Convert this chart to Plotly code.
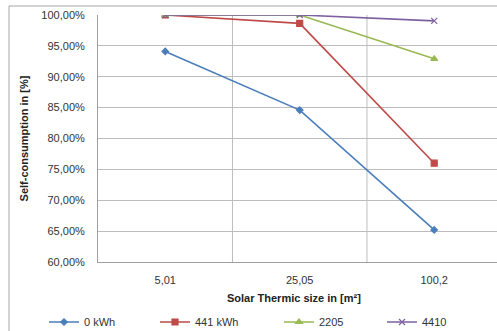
import plotly.graph_objects as go

categories = ["5,01", "25,05", "100,2"]
series_names = ["0 kWh", "441 kWh", "2205", "4410"]
s0 = [94.1, 84.6, 65.2]
s441 = [100.0, 98.65, 76.0]
s2205 = [100.0, 100.0, 92.9]
s4410 = [100.0, 100.0, 99.05]
y_ticks = [60, 65, 70, 75, 80, 85, 90, 95, 100]
y_tick_labels = ["60,00%", "65,00%", "70,00%", "75,00%", "80,00%", "85,00%", "90,00%", "95,00%", "100,00%"]

colors = ["#4a7ebb", "#be4b48", "#98b954", "#7d60a0"]
symbols = ["diamond", "square", "triangle-up", "x-thin"]
sizes = [5, 6, 6, 6]
values = [s0, s441, s2205, s4410]
xpos = list(range(len(categories)))
legend_ids = ["legend", "legend2", "legend3", "legend4"]
legend_text_x = [85, 196, 320, 423]

fig = go.Figure()
for name, vals, c, sym, sz, lg in zip(series_names, values, colors, symbols, sizes, legend_ids):
    fig.add_trace(go.Scatter(
        x=xpos, y=vals, name=name, mode="lines+markers", legend=lg,
        line=dict(color=c, width=1.6),
        marker=dict(symbol=sym, size=sz, color=c, line=dict(color=c, width=1.2)),
    ))

W, H = 497, 331
font = "Liberation Sans, Arial, sans-serif"
legend_layout = {}
for lg, tx in zip(legend_ids, legend_text_x):
    legend_layout[lg] = dict(
        orientation="h", x=(tx - 41) / W, xanchor="left", xref="container",
        y=(H - 322) / H, yanchor="middle", yref="container",
        font=dict(size=11, color="#333333"), itemwidth=30, bgcolor="rgba(0,0,0,0)",
    )

fig.update_layout(
    width=W, height=H,
    margin=dict(l=98, r=0, t=15, b=69, autoexpand=False),
    paper_bgcolor="white", plot_bgcolor="white",
    font=dict(family=font, size=11, color="#333333"),
    showlegend=True,
    xaxis=dict(
        range=[-0.5, 2.467], tickmode="array", tickvals=xpos, ticktext=categories,
        showgrid=False, zeroline=False, showline=True, linecolor="#a0a0a0", linewidth=1,
        ticks="", ticklabelstandoff=8,
    ),
    yaxis=dict(
        range=[60, 100], tickmode="array", tickvals=y_ticks, ticktext=y_tick_labels,
        showgrid=True, gridcolor="#bdbdbd", gridwidth=1, zeroline=False,
        showline=True, linecolor="#a0a0a0", linewidth=1, ticks="", ticklabelstandoff=10,
        title=dict(text="<b>Self-consumption in [%]</b>", font=dict(size=11, color="#222222"), standoff=10),
    ),
    annotations=[
        dict(text="<b>Solar Thermic size in [m²]</b>", xref="paper", yref="paper",
             x=0.49, y=-(298 - 262) / 247, xanchor="center", yanchor="middle",
             showarrow=False, font=dict(size=11, color="#222222")),
    ],
    shapes=[
        dict(type="line", xref="x", yref="paper", x0=0.5, x1=0.5, y0=0, y1=1,
             line=dict(color="#bdbdbd", width=1), layer="below"),
        dict(type="line", xref="x", yref="paper", x0=1.5, x1=1.5, y0=0, y1=1,
             line=dict(color="#bdbdbd", width=1), layer="below"),
        dict(type="rect", xref="paper", yref="paper",
             x0=(9 - 98) / 399, x1=1.05, y0=-(331 - 262 + 5) / 247, y1=1 + (15 - 6) / 247,
             line=dict(color="#a6a6a6", width=1), fillcolor="rgba(0,0,0,0)", layer="below"),
    ],
    **legend_layout,
)

fig.write_html("out.html")
